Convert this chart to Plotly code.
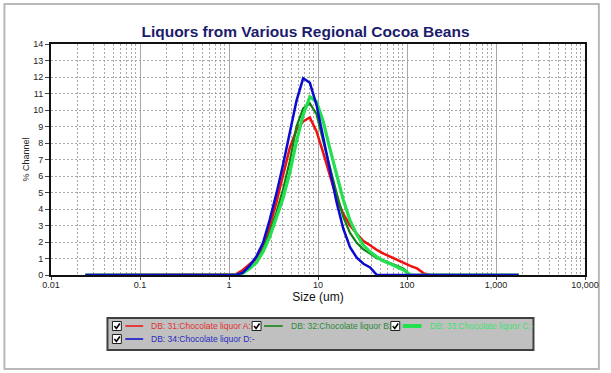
import plotly.graph_objects as go

# ---------------- data ----------------
SIZES = [0.0243, 1.20, 1.43, 1.70, 2.03, 2.41, 2.86, 3.41, 4.05, 4.82, 5.73, 6.81,
         8.10, 9.63, 11.45, 13.62, 16.20, 19.26, 22.90, 27.24, 32.39, 38.52, 45.81,
         54.48, 64.78, 77.04, 91.62, 108.9, 129.6, 154.1, 183.2, 1800]

LIQUOR_A = [0, 0.05, 0.30, 0.65, 1.00, 1.70, 2.90, 4.40, 6.10, 7.70, 8.80, 9.30,
            9.55, 8.70, 7.40, 5.95, 4.65, 3.70, 3.00, 2.50, 2.05, 1.80, 1.52,
            1.30, 1.10, 0.90, 0.72, 0.55, 0.40, 0.10, 0, 0]
LIQUOR_B = [0, 0, 0.12, 0.40, 0.78, 1.55, 2.55, 3.80, 5.20, 6.90, 9.00, 10.10,
            10.40, 9.75, 8.10, 6.45, 4.95, 3.50, 2.55, 1.95, 1.55, 1.30, 1.02,
            0.88, 0.74, 0.56, 0.38, 0, 0, 0, 0, 0]
LIQUOR_C = [0, 0, 0.10, 0.38, 0.75, 1.40, 2.30, 3.45, 4.65, 6.20, 8.10, 9.70,
            10.80, 10.50, 9.30, 7.65, 6.10, 4.55, 3.30, 2.45, 1.80, 1.40, 1.10,
            0.85, 0.68, 0.50, 0.30, 0, 0, 0, 0, 0]
LIQUOR_D = [0, 0, 0.14, 0.55, 1.12, 1.95, 3.33, 4.93, 6.69, 8.67, 10.55, 11.92,
            11.65, 10.30, 8.40, 6.30, 4.40, 2.80, 1.69, 1.05, 0.68, 0.46, 0,
            0, 0, 0, 0, 0, 0, 0, 0, 0]

SERIES_NAMES = ["DB: 31:Chocolate liquor A:-", "DB: 32:Chocolate liquor B:-",
                "DB: 33:Chocolate liquor C:-", "DB: 34:Chocolate liquor D:-"]
X_TICKVALS = [0.01, 0.1, 1, 10, 100, 1000, 10000]
X_TICKTEXT = ["0.01", "0.1", "1", "10", "100", "1,000", "10,000"]

# ---------------- styling ----------------
W, H = 611, 373
ML, MR, MT, MB = 51, 21, 44, 98
PW, PH = W - ML - MR, H - MT - MB

def px(x):
    return (x - ML) / PW

def py(y):
    return (H - MB - y) / PH

LINE_COLORS = ["#ee1111", "#108010", "#22e050", "#0a0ad0"]
LINE_WIDTHS = [2.5, 2.2, 3.2, 2.5]
TEXT_COLORS = ["#e03030", "#2a8a3a", "#40e070", "#2a2ac0"]

fig = go.Figure()
for name, vals, col, lw in zip(SERIES_NAMES, [LIQUOR_A, LIQUOR_B, LIQUOR_C, LIQUOR_D],
                               LINE_COLORS, LINE_WIDTHS):
    fig.add_trace(go.Scatter(x=SIZES, y=vals, mode="lines", name=name,
                             line=dict(color=col, width=lw), showlegend=False))

minor_vals = [m * 10 ** d for d in range(-2, 4) for m in range(2, 10)]

fig.update_layout(
    width=W, height=H, autosize=False,
    margin=dict(l=ML, r=MR, t=MT, b=MB),
    paper_bgcolor="white", plot_bgcolor="white",
    font=dict(family="Liberation Sans, Arial, sans-serif", color="#222222", size=9),
    title=dict(text="<b>Liquors from Various Regional Cocoa Beans</b>",
               x=0.5, xanchor="center", y=1 - 32 / H, yanchor="middle",
               font=dict(size=15.5, color="#1c1c6c", family="Liberation Sans, Arial, sans-serif")),
    xaxis=dict(type="log", range=[-2, 4],
               tickmode="array", tickvals=X_TICKVALS, ticktext=X_TICKTEXT,
               ticks="outside", ticklen=3, tickcolor="#444",
               ticklabelstandoff=-3,
               showgrid=True, gridcolor="#a8a8a8", gridwidth=1,
               minor=dict(tickmode="array", tickvals=minor_vals, showgrid=True,
                          gridcolor="#a8a8a8", griddash="2px,2px", ticks=""),
               showline=True, linecolor="#111", linewidth=2, mirror=True,
               zeroline=False,
               title=dict(text="Size (um)", font=dict(size=12, color="#111"), standoff=4),
               tickfont=dict(size=9, color="#222")),
    yaxis=dict(range=[0, 14], dtick=1, tick0=0,
               ticks="outside", ticklen=4, tickcolor="#444",
               showgrid=True, gridcolor="#a8a8a8", griddash="2px,2px", gridwidth=1,
               showline=True, linecolor="#111", linewidth=2, mirror=True,
               zeroline=False,
               title=dict(text="% Channel", font=dict(size=9, color="#222"), standoff=2),
               tickfont=dict(size=9, color="#222")),
)

shapes = []
annotations = []
# outer frame
shapes.append(dict(type="rect", xref="paper", yref="paper",
                   x0=px(4), x1=px(604), y0=py(369), y1=py(4),
                   line=dict(color="#b8b8b8", width=2), fillcolor="rgba(0,0,0,0)", layer="below"))
# legend box
shapes.append(dict(type="rect", xref="paper", yref="paper",
                   x0=px(108), x1=px(538), y0=py(350), y1=py(318),
                   line=dict(color="#404040", width=2), fillcolor="#c0c0c0"))

legend_items = [  # (checkbox_x, line_x0, line_x1, text_x, row_y)
    (113, 126, 144, 150, 326),
    (254, 266, 285, 291, 326),
    (394, 406, 425, 432, 326),
    (113, 126, 144, 150, 339),
]
leg_widths = [1.5, 1.5, 4, 1.5]
for (cx, lx0, lx1, tx, ry), name, col, tcol, lw in zip(legend_items, SERIES_NAMES,
                                                     LINE_COLORS, TEXT_COLORS, leg_widths):
    shapes.append(dict(type="rect", xref="paper", yref="paper",
                       x0=px(cx), x1=px(cx + 9), y0=py(ry + 4.5), y1=py(ry - 4.5),
                       line=dict(color="#202020", width=1), fillcolor="white"))
    shapes.append(dict(type="path", xref="paper", yref="paper",
                       path=f"M {px(cx + 2)},{py(ry)} L {px(cx + 4)},{py(ry + 2.5)} L {px(cx + 7.5)},{py(ry - 2.5)}",
                       line=dict(color="black", width=1.6)))
    shapes.append(dict(type="line", xref="paper", yref="paper",
                       x0=px(lx0), x1=px(lx1), y0=py(ry), y1=py(ry),
                       line=dict(color=col, width=lw)))
    annotations.append(dict(xref="paper", yref="paper", x=px(tx), y=py(ry),
                            xanchor="left", yanchor="middle", showarrow=False,
                            text=name, font=dict(size=8.5, color=tcol,
                                                 family="Liberation Sans, Arial, sans-serif")))

fig.update_layout(shapes=shapes, annotations=annotations)
fig.write_html("out.html", config={"displayModeBar": False},
               post_script="document.body.style.margin='0';")
